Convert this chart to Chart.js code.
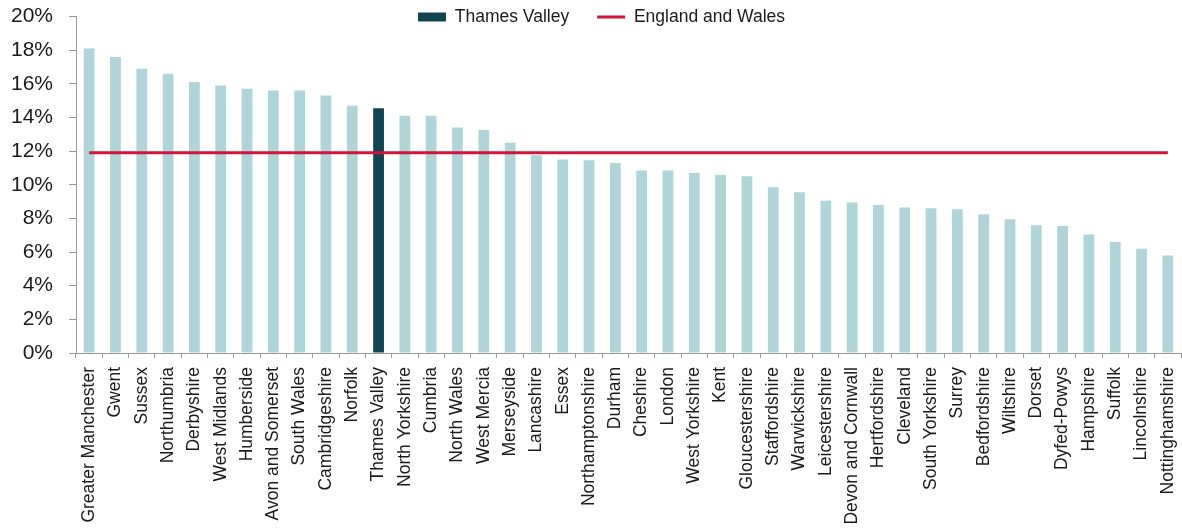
<!DOCTYPE html>
<html>
<head>
<meta charset="utf-8">
<title>Thames Valley vs England and Wales</title>
<script src="https://cdn.jsdelivr.net/npm/chart.js@4/dist/chart.umd.min.js"></script>
<style>
  html, body { margin: 0; padding: 0; background: #fff; }
  #wrap { width: 1182px; height: 530px; }
</style>
</head>
<body>
<div id="wrap"><canvas id="forceChart"></canvas></div>
<script>
const forces = [
  'Greater Manchester', 'Gwent', 'Sussex', 'Northumbria', 'Derbyshire', 'West Midlands',
  'Humberside', 'Avon and Somerset', 'South Wales', 'Cambridgeshire', 'Norfolk', 'Thames Valley',
  'North Yorkshire', 'Cumbria', 'North Wales', 'West Mercia', 'Merseyside', 'Lancashire',
  'Essex', 'Northamptonshire', 'Durham', 'Cheshire', 'London', 'West Yorkshire', 'Kent',
  'Gloucestershire', 'Staffordshire', 'Warwickshire', 'Leicestershire', 'Devon and Cornwall',
  'Hertfordshire', 'Cleveland', 'South Yorkshire', 'Surrey', 'Bedfordshire', 'Wiltshire',
  'Dorset', 'Dyfed-Powys', 'Hampshire', 'Suffolk', 'Lincolnshire', 'Nottinghamshire'
];
const rates = [
  18.1, 17.6, 16.9, 16.6, 16.1, 15.9,
  15.7, 15.6, 15.6, 15.3, 14.7, 14.55,
  14.1, 14.1, 13.4, 13.25, 12.5, 11.75,
  11.5, 11.45, 11.3, 10.85, 10.85, 10.7, 10.6,
  10.5, 9.85, 9.55, 9.05, 8.95,
  8.8, 8.65, 8.6, 8.55, 8.25, 7.95,
  7.6, 7.55, 7.05, 6.6, 6.2, 5.8
];
const highlight = 'Thames Valley';
const englandWales = 11.9;
const yTicks = [0, 2, 4, 6, 8, 10, 12, 14, 16, 18, 20];

const hlIndex = forces.indexOf(highlight);
const otherRates = rates.map((v, i) => i === hlIndex ? null : v);
const hlRates = rates.map((v, i) => i === hlIndex ? v : null);
const ewLine = forces.map(() => englandWales);

Chart.defaults.font.family = '"Liberation Sans", Arial, sans-serif';
Chart.defaults.color = '#1a1a1a';

// legend sits over the top of the plot, so don't let it take layout space
const legendOverlay = {
  id: 'legendOverlay',
  afterInit(chart) {
    const lg = chart.legend;
    const fit = lg.fit;
    lg.fit = function () {
      fit.call(this);
      this.height = 0;
    };
  },
  afterLayout(chart) {
    // text centre at y = 17, nudge right a bit, widen the clip box so it isn't cut off
    const lg = chart.legend;
    lg.top = 17 - lg.options.labels.padding - 8.75;
    lg.bottom = 40;
    lg.left += 11;
    lg.right += 11;
  }
};

const ctx = document.getElementById('forceChart').getContext('2d');

new Chart(ctx, {
  type: 'bar',
  data: {
    labels: forces,
    datasets: [
      {
        label: 'Other forces',
        data: otherRates,
        backgroundColor: '#afd5d8',
        grouped: false,
        barPercentage: 0.41,
        categoryPercentage: 1,
        order: 2
      },
      {
        label: highlight,
        data: hlRates,
        backgroundColor: '#0f4651',
        grouped: false,
        barPercentage: 0.41,
        categoryPercentage: 1,
        pointStyle: 'rect',
        order: 1
      },
      {
        type: 'line',
        label: 'England and Wales',
        data: ewLine,
        borderColor: '#d0153a',
        backgroundColor: '#d0153a',
        borderWidth: 3,
        pointRadius: 0,
        pointStyle: 'line',
        order: 0
      }
    ]
  },
  options: {
    responsive: true,
    maintainAspectRatio: false,
    animation: false,
    layout: { padding: { top: 0, left: 0, right: 1, bottom: 0 } },
    plugins: {
      legend: {
        position: 'top',
        labels: {
          filter: item => item.text !== 'Other forces',
          sort: (a, b) => a.datasetIndex - b.datasetIndex,
          usePointStyle: true,
          pointStyleWidth: 28,
          boxHeight: 9,
          padding: 28,
          font: { size: 17.5 },
          color: '#1a1a1a'
        }
      },
      tooltip: { enabled: false }
    },
    scales: {
      x: {
        grid: {
          offset: true,
          drawOnChartArea: false,
          drawTicks: true,
          tickLength: 5,
          color: '#999'
        },
        border: { color: '#999', width: 1 },
        ticks: {
          autoSkip: false,
          minRotation: 90,
          maxRotation: 90,
          padding: 9,
          font: { size: 17.5 },
          color: '#1a1a1a'
        },
        afterFit: axis => {
          axis.height = 177;
          axis.paddingLeft = 0;
          axis.paddingRight = 0;
        }
      },
      y: {
        min: 0,
        max: 20,
        afterBuildTicks: axis => { axis.ticks = yTicks.map(v => ({ value: v })); },
        grid: {
          drawOnChartArea: false,
          drawTicks: true,
          tickLength: 7,
          color: '#999'
        },
        border: { color: '#999', width: 1 },
        ticks: {
          padding: 16,
          font: { size: 21 },
          color: '#1a1a1a',
          callback: v => v + '%'
        },
        afterFit: axis => {
          axis.width = 76;
          axis.paddingTop = 16.5;
          axis.paddingBottom = 0;
        }
      }
    }
  },
  plugins: [legendOverlay]
});
</script>
</body>
</html>
